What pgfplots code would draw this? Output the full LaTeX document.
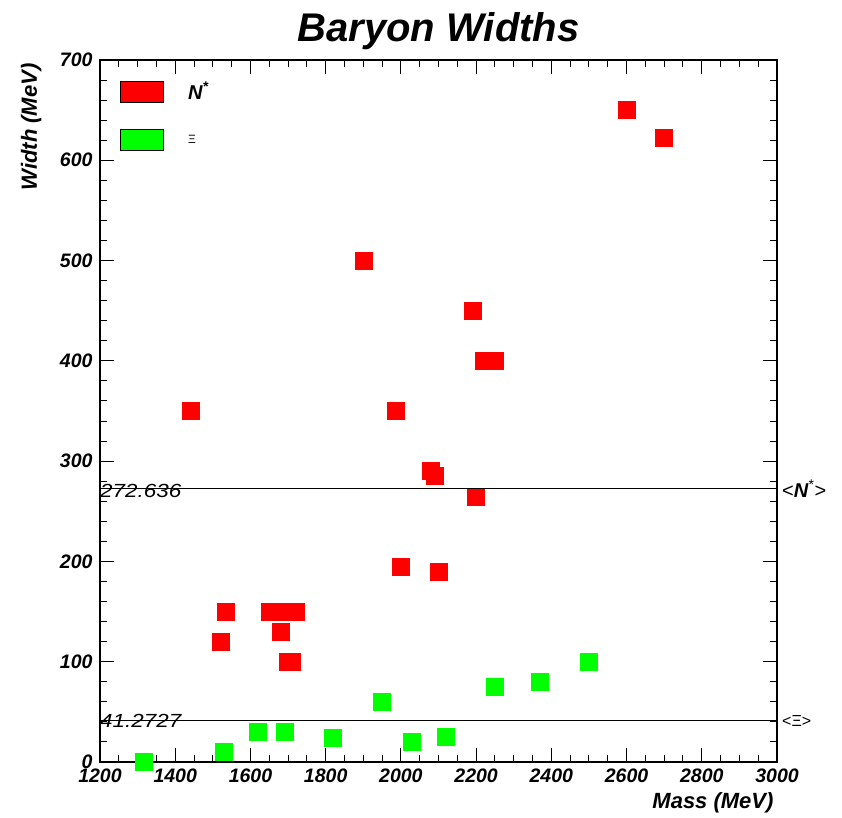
\documentclass[border=0pt]{standalone}
\usepackage{pgfplots}
\pgfplotsset{compat=1.18}
\usepackage{fontspec}
\setmainfont{Liberation Sans}
\begin{document}
\begin{tikzpicture}
\begin{axis}[name=ax, scale only axis, width=677pt, height=702pt,
  xmin=1200, xmax=3000, ymin=0, ymax=700,
  xtick distance=200, ytick distance=100,
  minor x tick num=3, minor y tick num=4,
  tick align=inside, major tick length=14pt, minor tick length=7pt,
  axis line style={line width=1.2pt}, every tick/.style={black, line width=1pt},
  tick label style={font=\fontsize{19.5}{22}\selectfont\bfseries\itshape},
  yticklabel style={xshift=-4pt},
  xticklabel style={yshift=-3pt},
  /pgf/number format/assume math mode=true, /pgf/number format/1000 sep={},
  title={Baryon Widths},
  title style={font=\fontsize{40}{48}\selectfont\bfseries\itshape, at={(axis description cs:0.5,1)}, anchor=base, yshift=12pt},
  xlabel={Mass (MeV)},
  xlabel style={font=\fontsize{22}{26}\selectfont\bfseries\itshape, at={(axis description cs:1,0)}, anchor=base east, yshift=-46pt},
  ylabel={Width (MeV)},
  ylabel style={font=\fontsize{22}{26}\selectfont\bfseries\itshape, at={(axis description cs:0,1)}, anchor=south east, yshift=55pt},
  clip mode=individual,
  legend style={draw=none, fill=none, at={(axis description cs:0,1)}, anchor=north west, xshift=20pt, yshift=-20pt,
    font=\fontsize{20}{24}\selectfont\bfseries\itshape, row sep=26pt, inner sep=0pt, cells={anchor=west}},
  legend cell align=left,
]
\addplot[only marks, mark=square*, mark size=8.5pt, color=red, mark options={draw=red, fill=red},
  legend image code/.code={\draw[fill=red, draw=black, line width=1pt] (0pt,-10.5pt) rectangle (43pt,10.5pt);}]
  coordinates {
  (1440,350) (1520,120) (1535,150) (1650,150) (1675,150) (1680,130) (1700,100) (1710,100) (1720,150)
  (1900,500) (1985,350) (2000,195) (2080,290) (2090,285) (2100,190) (2190,450) (2200,265)
  (2220,400) (2250,400) (2600,650) (2700,623)
  };
\addlegendentry{\hspace{22pt}N\textsuperscript{*}}
\addplot[only marks, mark=square*, mark size=8.5pt, color=green, mark options={draw=green, fill=green},
  legend image code/.code={\draw[fill=green, draw=black, line width=1pt] (0pt,-10.5pt) rectangle (43pt,10.5pt);}]
  coordinates {
  (1315,0) (1530,10) (1620,30) (1690,30) (1820,24) (1950,60) (2030,20) (2120,25)
  (2250,75) (2370,80) (2500,100)
  };
\addlegendentry{\hspace{22pt}{\normalfont\fontsize{12}{14}\selectfont Ξ}}
\addplot[black, line width=1.3pt, forget plot] coordinates {(1200,272.636) (3000,272.636)};
\addplot[black, line width=1.3pt, forget plot] coordinates {(1200,41.2727) (3000,41.2727)};
\node[anchor=base west, inner sep=0pt, xscale=1.18, font=\fontsize{19}{22}\selectfont\itshape, yshift=-9pt] at (axis cs:1200,272.636) {272.636};
\node[anchor=base west, inner sep=0pt, xscale=1.18, font=\fontsize{19}{22}\selectfont\itshape, yshift=-7pt] at (axis cs:1200,41.2727) {41.2727};
\node[anchor=west, inner sep=0pt, xshift=5pt, font=\fontsize{20}{24}\selectfont] at (axis cs:3000,272.636) {<\textbf{\textit{N}}\textsuperscript{*}>};
\node[anchor=west, inner sep=0pt, xshift=5pt, font=\fontsize{16}{20}\selectfont] at (axis cs:3000,41.2727) {<Ξ>};
\end{axis}
\path[use as bounding box] ([xshift=-100pt,yshift=-55pt]ax.south west) rectangle ([xshift=65pt,yshift=60pt]ax.north east);
\end{tikzpicture}
\end{document}
